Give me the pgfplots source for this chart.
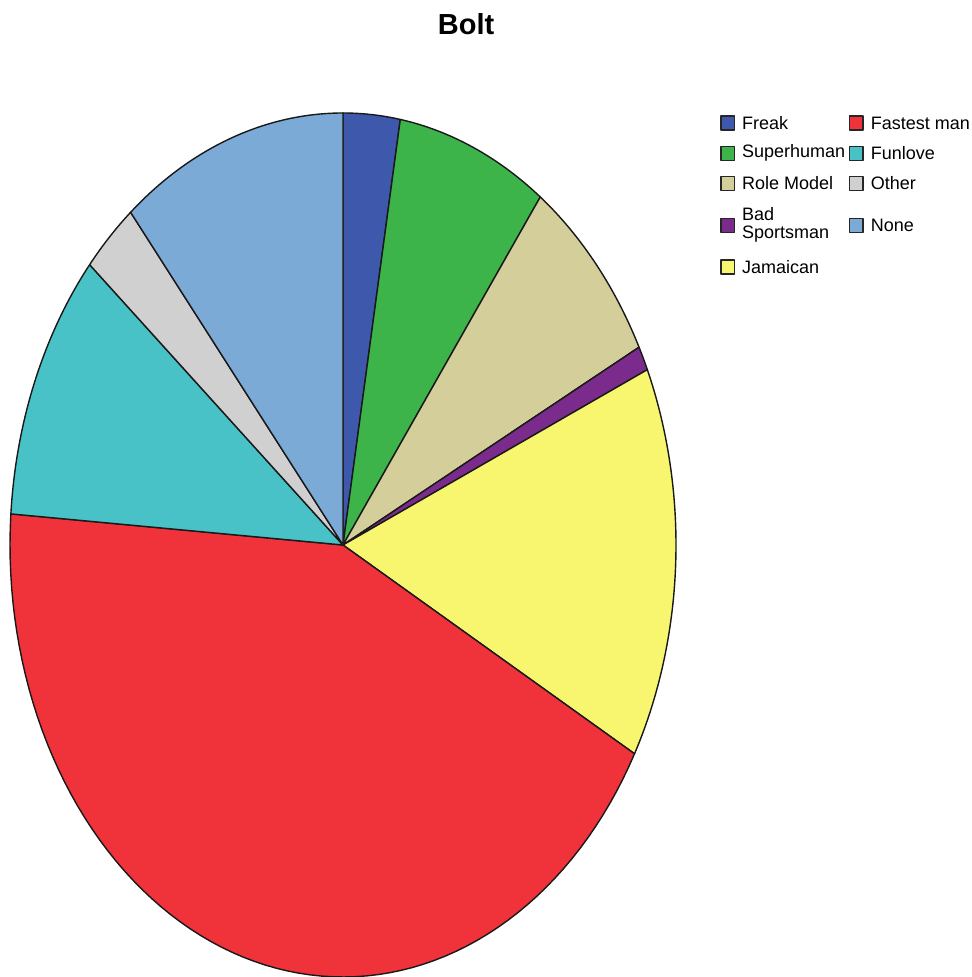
\documentclass[border=0pt]{standalone}
\usepackage{fontspec}
\setmainfont{Liberation Sans}
\usepackage{pgfplots}
\pgfplotsset{compat=1.18}
\definecolor{cFreak}{HTML}{3E58AC}
\definecolor{cSuper}{HTML}{3CB44A}
\definecolor{cRole}{HTML}{D4CE9A}
\definecolor{cBad}{HTML}{7B2B8C}
\definecolor{cJam}{HTML}{F8F66E}
\definecolor{cFast}{HTML}{F0323A}
\definecolor{cFun}{HTML}{48C2C6}
\definecolor{cOther}{HTML}{D0D0D0}
\definecolor{cNone}{HTML}{7BAAD7}
% counts (total 109)
\def\total{109}
\newcommand{\slice}[4]{% #1 cumulative start, #2 count, #3 colour, #4 legend text
  \pgfmathsetmacro\unitang{360/\total}%
  \pgfmathsetmacro\aS{90-\unitang*#1}%
  \pgfmathsetmacro\aE{90-\unitang*(#1+#2)}%
  \edef\tmp{\noexpand\addplot[fill=#3, draw=black!90, line width=0.7pt, line join=round,
     domain=\aE:\aS, samples=80, variable=\noexpand\t]
     ({343+333*cos(\noexpand\t)},{432+432*sin(\noexpand\t)}) -- (axis cs:343,432) -- cycle;}%
  \tmp
  \addlegendentry{#4}%
}
\begin{document}
\begin{tikzpicture}
\begin{axis}[
  width=485.5pt, height=488.5pt, scale only axis,
  xmin=0, xmax=971, ymin=0, ymax=977,
  axis lines=none, clip=false,
  title={Bolt},
  title style={at={(0.48,0.963)}, anchor=center, font=\fontsize{14.5}{16}\selectfont\bfseries},
  legend columns=5, transpose legend,
  legend style={at={(axis cs:714,869)}, anchor=north west, draw=none, fill=none,
    font=\fontsize{9}{11}\selectfont, row sep=3.6pt, column sep=0pt,
    nodes={text depth=}},
  legend cell align=left,
  legend image code/.code={\draw[#1, draw=black!85, line width=0.6pt] (0pt,-3.5pt) rectangle (6.6pt,3.5pt); \path (8.2pt,0pt);},
]
\slice{0}{3}{cFreak}{Freak}
\slice{3}{8}{cSuper}{Superhuman}
\slice{11}{8}{cRole}{Role Model}
\slice{19}{1}{cBad}{\begin{tabular}[c]{@{}l@{}}Bad\\[-2pt]Sportsman\end{tabular}}
\slice{20}{16}{cJam}{Jamaican}
\slice{36}{47}{cFast}{Fastest man}
\slice{83}{11}{cFun}{Funlove}
\slice{94}{3}{cOther}{Other}
\slice{97}{12}{cNone}{None}
\end{axis}
\pgfresetboundingbox
\path (current axis.south west) rectangle (current axis.north east);
\end{tikzpicture}
\end{document}
